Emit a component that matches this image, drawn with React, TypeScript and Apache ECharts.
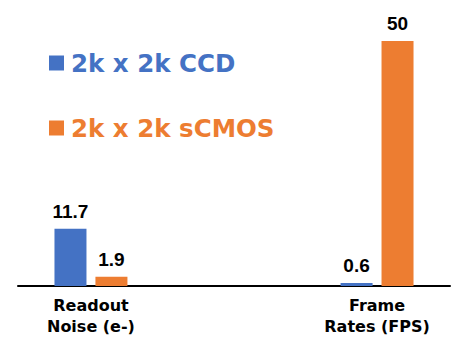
import React, { useEffect, useRef } from "react";
import * as echarts from "echarts";

const categories = ["Readout\nNoise (e-)", "Frame\nRates (FPS)"];
const categoryPositions = [0, 1];
const seriesNames = ["2k x 2k CCD", "2k x 2k sCMOS"];
const ccdValues = [11.7, 0.6];
const cmosValues = [1.9, 50];
const colors = ["#4472C4", "#ED7D31"];

export default function App() {
  const ref = useRef<HTMLDivElement>(null);
  useEffect(() => {
    if (!ref.current) return;
    const chart = echarts.init(ref.current, undefined, { renderer: "svg" });
    const labelStyle = {
      show: true,
      position: "top" as const,
      distance: 8,
      color: "#000",
      fontFamily: "Liberation Sans",
      fontWeight: "bold" as const,
      fontSize: 19,
    };
    chart.setOption({
      animation: false,
      grid: { left: 18, right: 23, top: 41, bottom: 64, containLabel: false },
      legend: {
        orient: "vertical",
        left: 44,
        top: 43,
        itemWidth: 15,
        itemHeight: 15,
        itemGap: 35,
        icon: "rect",
        selectedMode: false,
        textStyle: {
          fontFamily: "DejaVu Sans",
          fontWeight: "bold",
          fontSize: 24.5,
          lineHeight: 30,
          padding: [0, 0, 0, 2],
        },
        data: seriesNames.map((n, i) => ({ name: n, textStyle: { color: colors[i] } })),
      },
      xAxis: {
        type: "value",
        min: -0.255,
        max: 1.255,
        splitLine: { show: false },
        axisTick: { show: false },
        axisLine: { show: true, lineStyle: { color: "#000", width: 2 } },
        axisLabel: {
          customValues: categoryPositions,
          formatter: (v: number) => categories[Math.round(v)] ?? "",
          color: "#000",
          fontFamily: "DejaVu Sans",
          fontWeight: "bold",
          fontSize: 16,
          lineHeight: 21,
          margin: 9,
        },
      },
      yAxis: { type: "value", min: 0, max: 50, show: false, splitLine: { show: false } },
      series: [
        {
          name: seriesNames[0],
          type: "bar",
          barWidth: 32,
          barGap: "28%",
          itemStyle: { color: colors[0] },
          label: labelStyle,
          data: categoryPositions.map((x, i) => [x, ccdValues[i]]),
        },
        {
          name: seriesNames[1],
          type: "bar",
          barWidth: 32,
          barGap: "28%",
          itemStyle: { color: colors[1] },
          label: labelStyle,
          data: categoryPositions.map((x, i) => [x, cmosValues[i]]),
        },
      ],
    });
    return () => chart.dispose();
  }, []);
  return (
    <div
      ref={ref}
      style={{ position: "fixed", left: 0, top: 0, width: 473, height: 350, background: "#fff" }}
    />
  );
}
